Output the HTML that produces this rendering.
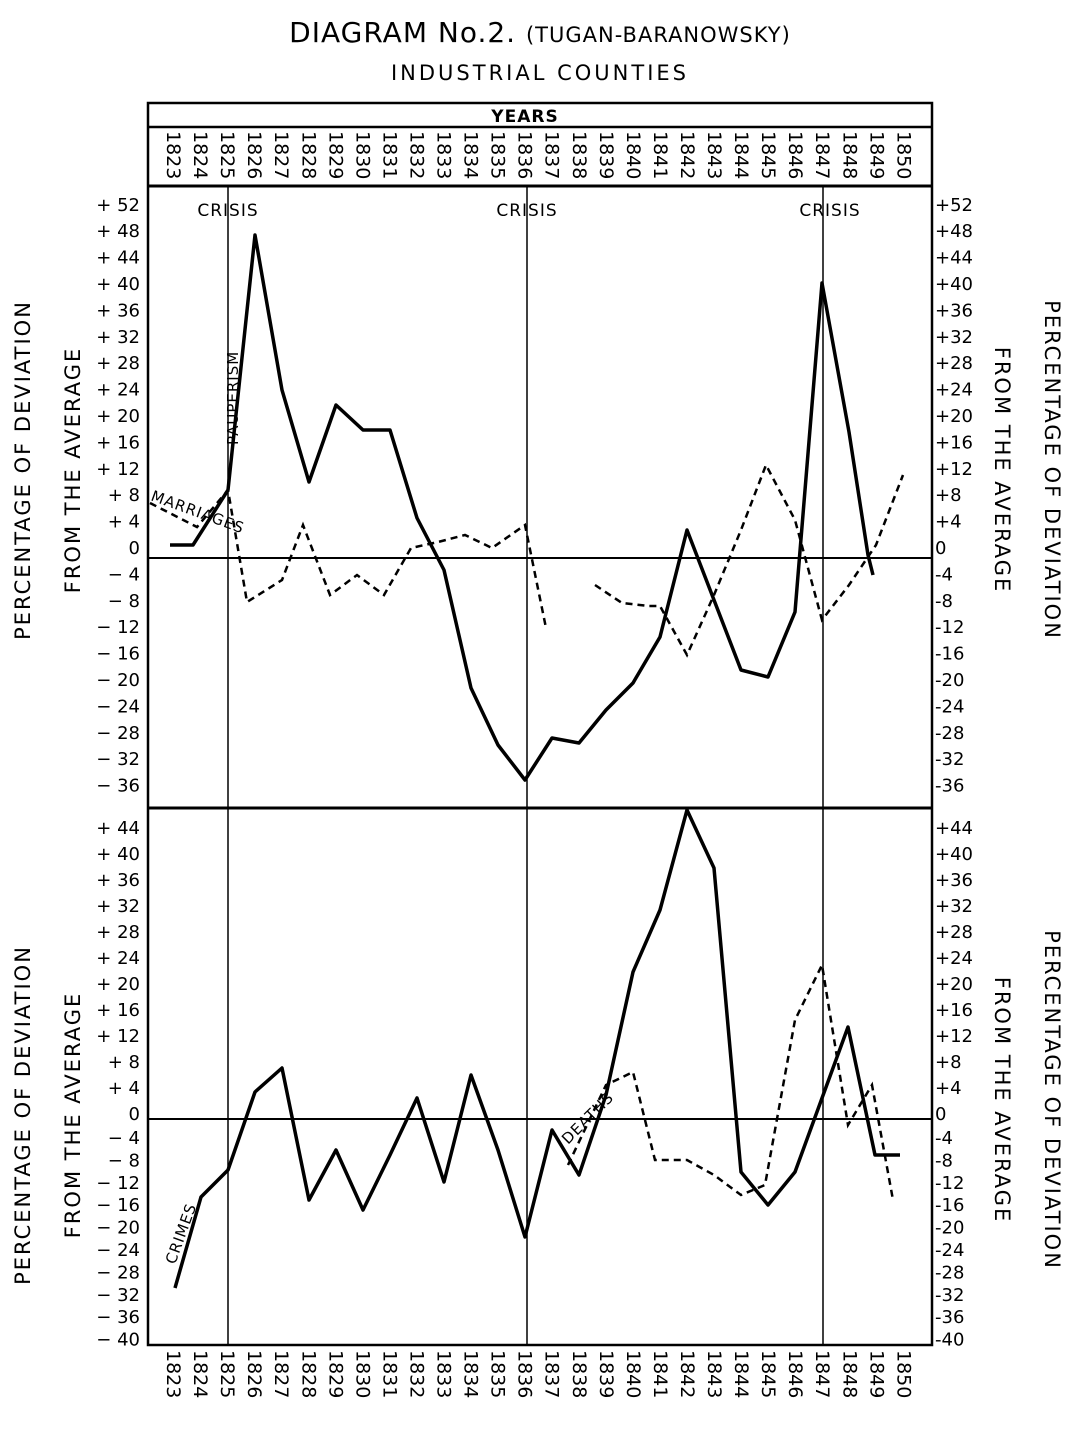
<!DOCTYPE html>
<html><head><meta charset="utf-8"><style>body{margin:0;background:#fff}svg{display:block}text{font-family:"DejaVu Sans","Liberation Sans",sans-serif;fill:#000}</style></head><body>
<svg width="1080" height="1440" viewBox="0 0 1080 1440" xmlns="http://www.w3.org/2000/svg">
<text x="540" y="42" text-anchor="middle" font-size="28" letter-spacing="1">DIAGRAM No.2. <tspan font-size="21">(TUGAN-BARANOWSKY)</tspan></text>
<text x="540" y="80" text-anchor="middle" font-size="21" letter-spacing="3">INDUSTRIAL COUNTIES</text>
<g stroke="#000" fill="none" stroke-width="2.5">
<rect x="148" y="103" width="784" height="1242"/>
<line x1="148" y1="127" x2="932" y2="127"/>
<line x1="148" y1="186" x2="932" y2="186" stroke-width="3"/>
<line x1="148" y1="808" x2="932" y2="808" stroke-width="3"/>
<line x1="148" y1="558" x2="932" y2="558" stroke-width="2"/>
<line x1="148" y1="1119" x2="932" y2="1119" stroke-width="2"/>
<line x1="228" y1="186" x2="228" y2="1345" stroke-width="1.5"/>
<line x1="527" y1="186" x2="527" y2="1345" stroke-width="1.5"/>
<line x1="823" y1="186" x2="823" y2="1345" stroke-width="1.5"/>
</g>
<text x="525" y="122" text-anchor="middle" font-size="17" letter-spacing="1" font-weight="bold">YEARS</text>
<g font-size="19" id="yrs"></g>
<g font-size="17" letter-spacing="1">
<text x="228" y="216" text-anchor="middle">CRISIS</text>
<text x="527" y="216" text-anchor="middle">CRISIS</text>
<text x="830" y="216" text-anchor="middle">CRISIS</text>
</g>
<g font-size="18" id="ticks"></g>
<g font-size="21" letter-spacing="2">
<text transform="translate(30,470) rotate(-90)" text-anchor="middle">PERCENTAGE OF DEVIATION</text>
<text transform="translate(80,470) rotate(-90)" text-anchor="middle">FROM THE AVERAGE</text>
<text transform="translate(1045,470) rotate(90)" text-anchor="middle">PERCENTAGE OF DEVIATION</text>
<text transform="translate(995,470) rotate(90)" text-anchor="middle">FROM THE AVERAGE</text>
<text transform="translate(30,1115) rotate(-90)" text-anchor="middle">PERCENTAGE OF DEVIATION</text>
<text transform="translate(80,1115) rotate(-90)" text-anchor="middle">FROM THE AVERAGE</text>
<text transform="translate(1045,1100) rotate(90)" text-anchor="middle">PERCENTAGE OF DEVIATION</text>
<text transform="translate(995,1100) rotate(90)" text-anchor="middle">FROM THE AVERAGE</text>
</g>
<g fill="none" stroke="#000" stroke-width="3.5" stroke-linejoin="round">
<polyline points="170,545 193,545 228,490 255,235 282,390 309,482 336,405 363,430 390,430 417,518 444,570 471,688 498,745 525,780 552,738 579,743 606,710 633,683 660,637 687,530 714,600 741,670 768,677 795,612 822,283 849,432 868,555 873,575"/>
<polyline points="175,1288 201,1197 228,1170 255,1092 282,1068 309,1200 336,1150 363,1210 390,1155 417,1098 444,1182 471,1075 498,1150 525,1237 552,1130 579,1175 606,1095 633,972 660,910 687,810 714,868 741,1172 768,1205 795,1172 848,1027 875,1155 900,1155"/>
</g>
<g fill="none" stroke="#000" stroke-width="2.5" stroke-dasharray="7,5">
<polyline points="150,503 197,527 228,490 247,602 282,580 303,525 330,595 357,575 384,595 411,548 438,542 465,535 492,548 525,525 546,628"/>
<polyline points="595,585 622,603 649,606 660,606 687,655 714,595 741,530 766,465 795,520 822,620 849,585 876,545 903,475"/>
<polyline points="568,1165 606,1085 633,1072 655,1160 687,1160 714,1175 741,1195 765,1185 795,1020 822,965 848,1125 872,1085 893,1200"/>
</g>
<g font-size="15" letter-spacing="1">
<text transform="translate(238,445) rotate(-90)">PAUPERISM</text>
<text transform="translate(150,500) rotate(20)">MARRIAGES</text>
<text transform="translate(175,1265) rotate(-70)">CRIMES</text>
<text transform="translate(568,1145) rotate(-45)">DEATHS</text>
</g>
<script>
var ns="http://www.w3.org/2000/svg",y=document.getElementById("yrs"),t=document.getElementById("ticks");
function tx(g,x,yy,s,a,tr){var e=document.createElementNS(ns,"text");e.setAttribute("x",x);e.setAttribute("y",yy);if(a)e.setAttribute("text-anchor",a);if(tr)e.setAttribute("transform",tr);e.textContent=s;g.appendChild(e);}
for(var i=0;i<28;i++){var x=174+27.05*i-7;tx(y,x,131,""+(1823+i),null,"rotate(90 "+x+" 131)");tx(y,x,1350,""+(1823+i),null,"rotate(90 "+x+" 1350)");}
for(var v=52;v>=-36;v-=4){var yy=548+(-v/4)*26.4+6;var s=v>0?"+ "+v:(v<0?"\u2212 "+(-v):"0");tx(t,140,yy,s,"end");tx(t,935,yy,v>0?"+"+v:(v<0?"-"+(-v):"0"));}
for(var v=44;v>=0;v-=4){var yy=828+(44-v)/4*26+6;tx(t,140,yy,v>0?"+ "+v:"0","end");tx(t,935,yy,v>0?"+"+v:"0");}
for(var v=-4;v>=-40;v-=4){var yy=1138+(-4-v)/4*22.4+6;tx(t,140,yy,"\u2212 "+(-v),"end");tx(t,935,yy,"-"+(-v));}
</script>
</svg>
</body></html>
